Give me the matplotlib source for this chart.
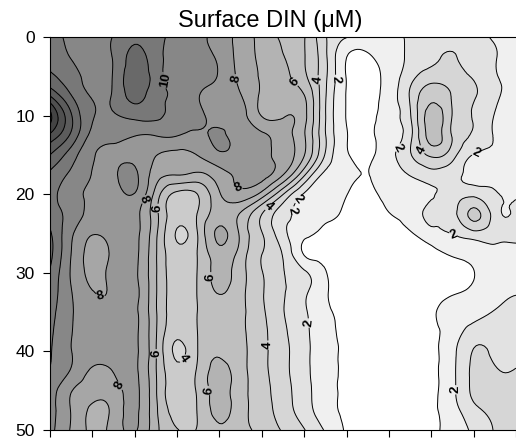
import matplotlib
matplotlib.use('Agg')
import matplotlib.pyplot as plt
import matplotlib.tri as mtri
import numpy as np

plt.rcParams['font.family'] = ['Liberation Sans', 'DejaVu Sans']

# section grid: station index along x, depth (m) down the y axis
x_pos = [0, 0.5, 1, 1.5, 2, 2.5, 3, 3.5, 4, 4.5, 5, 5.5, 6, 6.5, 7, 7.5, 8, 8.5, 9, 9.5, 10, 10.5, 11]
depth = [0, 2.5, 5, 7.5, 10, 12.5, 15, 17.5, 20, 22.5, 25, 27.5, 30, 32.5, 35, 37.5, 40, 42.5, 45, 47.5, 50]

# DIN (uM), one row per depth
din = np.array([
    [10.4, 9.8, 9.6, 10.05, 10.7, 10.3, 9.7, 9.2, 8.6, 7.6, 6.7, 5.8, 5.05, 3.1, 2.05, 1.9, 1.9, 2.1, 2.4, 2.5, 2.3, 1.9, 1.7],
    [10.7, 9.95, 9.6, 10.1, 11.3, 10.4, 9.6, 9.3, 8.8, 7.6, 6.8, 6.05, 5.05, 3.2, 1.02, 0.85, 1.5, 2.2, 2.8, 3.05, 2.6, 2.05, 1.7],
    [11.2, 10.4, 9.6, 10.1, 11.6, 10.5, 9.7, 9.4, 8.9, 7.7, 6.9, 6.3, 5.2, 3.2, 0.95, 0.5, 1.4, 2.6, 3.5, 3.3, 2.9, 2.1, 1.8],
    [13.0, 11.05, 9.9, 10.15, 11.3, 10.4, 9.8, 9.05, 8.5, 8.05, 6.8, 6.5, 6.05, 3.1, 0.95, 0.5, 1.5, 3.1, 4.7, 3.9, 3.1, 2.2, 1.8],
    [15.3, 12.1, 10.1, 9.9, 10.3, 10.2, 9.6, 9.2, 8.7, 8.4, 6.95, 6.9, 6.3, 3.05, 0.95, 0.55, 1.6, 2.9, 5.5, 3.95, 2.95, 1.95, 1.7],
    [13.8, 11.8, 9.7, 9.3, 9.05, 9.05, 9.05, 8.8, 9.15, 8.5, 8.2, 7.4, 6.1, 3.05, 1.05, 0.7, 1.6, 2.7, 5.4, 3.9, 2.9, 1.9, 1.7],
    [12.0, 10.5, 9.1, 8.8, 8.6, 8.02, 7.8, 8.05, 8.8, 8.6, 8.3, 7.6, 6.05, 2.9, 1.1, 0.8, 1.65, 2.9, 4.2, 3.4, 1.95, 1.85, 1.75],
    [10.8, 9.8, 8.95, 8.8, 9.2, 7.5, 7.05, 6.8, 7.6, 8.2, 8.3, 7.05, 4.2, 1.7, 1.2, 0.98, 1.6, 2.05, 2.6, 2.3, 1.8, 1.75, 1.7],
    [10.4, 9.4, 8.7, 8.5, 8.95, 6.6, 4.7, 5.05, 6.9, 7.7, 6.6, 4.05, 1.9, 1.3, 1.02, 0.8, 1.3, 1.6, 1.9, 2.5, 2.7, 2.1, 1.9],
    [10.5, 9.6, 8.6, 8.4, 8.3, 6.3, 4.3, 5.1, 6.5, 5.9, 4.02, 2.4, 1.6, 1.2, 0.85, 0.6, 0.98, 1.4, 2.2, 2.6, 4.25, 2.5, 2.2],
    [11.15, 9.2, 8.05, 8.4, 8.3, 6.2, 3.9, 5.1, 7.2, 5.8, 4.05, 2.3, 1.3, 0.75, 0.5, 0.4, 0.6, 0.9, 1.6, 2.05, 2.65, 2.3, 2.1],
    [11.3, 9.0, 7.7, 8.2, 8.25, 6.1, 4.3, 5.1, 6.6, 5.6, 4.02, 2.9, 0.9, 0.7, 0.4, 0.3, 0.35, 0.5, 0.8, 1.1, 1.3, 1.7, 1.85],
    [10.9, 8.9, 7.8, 8.3, 8.2, 6.1, 4.4, 5.1, 6.3, 5.4, 4.05, 3.05, 2.2, 1.05, 0.6, 0.3, 0.3, 0.35, 0.5, 0.75, 0.98, 1.5, 1.7],
    [10.6, 9.05, 8.05, 8.2, 8.3, 6.1, 4.5, 5.1, 6.05, 5.3, 4.1, 3.1, 2.2, 1.1, 0.6, 0.3, 0.3, 0.3, 0.5, 0.9, 1.2, 1.7, 1.95],
    [10.4, 9.1, 8.4, 8.3, 8.2, 6.1, 4.5, 5.05, 5.6, 5.2, 4.2, 3.05, 2.15, 1.2, 0.7, 0.3, 0.3, 0.3, 0.8, 1.5, 1.7, 2.05, 2.3],
    [10.2, 9.05, 8.4, 8.3, 8.2, 6.1, 4.3, 5.05, 5.7, 5.2, 4.3, 3.2, 2.25, 1.3, 0.75, 0.3, 0.3, 0.35, 0.75, 1.5, 2.4, 2.6, 2.7],
    [10.1, 9.02, 8.5, 8.4, 8.2, 6.05, 3.8, 5.05, 5.9, 5.3, 4.3, 3.3, 2.3, 1.35, 0.8, 0.3, 0.3, 0.4, 0.8, 1.7, 3.05, 2.8, 2.7],
    [9.95, 8.9, 7.85, 8.05, 8.2, 6.05, 4.3, 5.2, 6.3, 5.4, 4.3, 3.3, 2.3, 1.35, 0.8, 0.3, 0.3, 0.4, 0.8, 1.75, 3.2, 3.1, 3.05],
    [9.6, 8.05, 7.4, 7.6, 8.2, 6.1, 4.4, 5.2, 6.3, 5.4, 4.4, 3.4, 2.4, 1.35, 0.8, 0.3, 0.3, 0.4, 0.8, 1.75, 3.2, 3.3, 3.3],
    [9.4, 7.95, 6.8, 7.3, 8.2, 6.2, 4.6, 5.1, 6.3, 5.4, 4.5, 3.5, 2.5, 1.4, 0.8, 0.3, 0.3, 0.4, 0.8, 1.6, 2.7, 3.2, 3.3],
    [9.3, 7.9, 6.8, 7.4, 8.1, 6.3, 5.05, 5.1, 5.9, 5.4, 4.7, 3.9, 3.05, 1.9, 0.9, 0.6, 0.5, 0.6, 0.8, 1.4, 2.2, 3.05, 3.3],
])

line_levels = list(range(1, 16))
label_levels = [2, 4, 6, 8, 10]
plain_levels = [v for v in line_levels if v not in label_levels]

# white below 1 uM, then one grey step per 1 uM
fill_levels = [-1] + line_levels + [16]
greys = [240, 226, 214, 203, 191, 179, 166, 151, 135, 120, 105, 92, 80, 68, 58]
fill_colors = ['#ffffff'] + ['#{0:02x}{0:02x}{0:02x}'.format(g) for g in greys]

# smooth the gridded field with matplotlib's own cubic tri refiner
# (depth scaled by 1/5 so grid cells are square while refining)
X, Y = np.meshgrid(x_pos, depth)
tri = mtri.Triangulation(X.ravel(), Y.ravel() / 5.0)
tri_fine, din_fine = mtri.UniformTriRefiner(tri).refine_field(din.ravel(), subdiv=3)
tri_fine = mtri.Triangulation(tri_fine.x, tri_fine.y * 5.0, tri_fine.triangles)

fig = plt.figure(figsize=(5.16, 4.40), dpi=100)
ax = fig.add_axes([50 / 516, 10 / 440, 466 / 516, 393 / 440])

ax.tricontourf(tri_fine, din_fine, levels=fill_levels, colors=fill_colors)
ax.tricontour(tri_fine, din_fine, levels=plain_levels, colors='k', linewidths=0.7)
cs = ax.tricontour(tri_fine, din_fine, levels=label_levels, colors='k', linewidths=0.7)

# where the labels sit in the reference
label_spots = [(2.7, 5.5), (4.4, 5.3), (5.85, 5.4), (6.4, 5.4), (6.75, 5.4),
               (8.1, 13.7), (8.75, 14.4), (10.0, 14.1), (4.4, 19.5), (2.24, 20.7),
               (2.6, 21.8), (5.07, 21.1), (5.5, 21.9), (5.94, 21.0), (9.5, 25.4),
               (1.0, 35.6), (3.7, 30.5), (2.5, 40.3), (3.1, 40.8), (5.2, 39.2),
               (6.08, 36.4), (3.94, 44.8), (1.5, 44.8), (9.67, 44.9)]
labels = ax.clabel(cs, manual=label_spots, fmt='%d',
                   fontsize=9.5, inline=True, inline_spacing=1)
for t in labels:
    t.set_fontweight('bold')

ax.set_xlim(0, 11)
ax.set_ylim(50, 0)
ax.set_xticks(range(12))
ax.set_xticklabels([])
ax.set_yticks([0, 10, 20, 30, 40, 50])
ax.tick_params(direction='out', length=5, width=0.8, labelsize=12.5, pad=6)
ax.spines['right'].set_visible(False)
ax.text(0.472, 1.012, 'Surface DIN (μM)', transform=ax.transAxes,
        ha='center', va='bottom', fontsize=17)

fig.savefig('out.png', dpi=100)
